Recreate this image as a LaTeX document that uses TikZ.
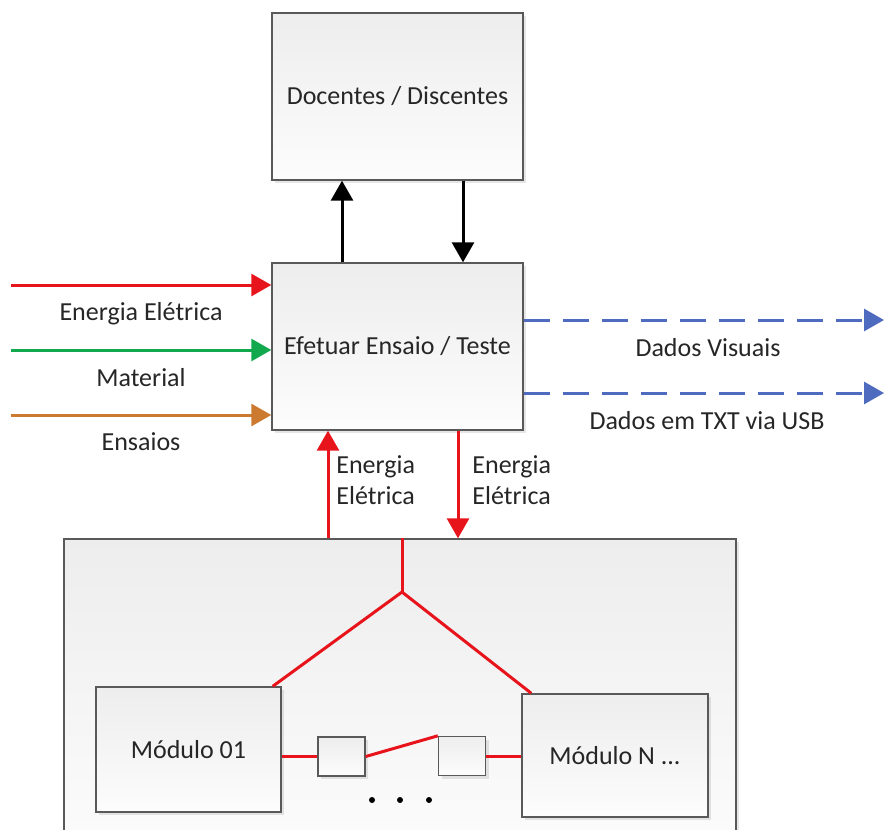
\documentclass[tikz,border=0pt]{standalone}
\usepackage{fontspec}
\setmainfont{Carlito}
\usetikzlibrary{arrows.meta,shadows}
\definecolor{redLine}{HTML}{E8141B}
\definecolor{greenLine}{HTML}{12A84E}
\definecolor{orangeLine}{HTML}{CC7A30}
\definecolor{blueLine}{HTML}{4F6BC0}
\tikzset{
    bigBox/.style={rectangle, draw=black!65, line width=0.7pt, top color=black!7, bottom color=black!1, inner sep=0pt, drop shadow={shadow xshift=1.5pt, shadow yshift=-1.5pt, opacity=0.2}},
    mainBox/.style={bigBox, minimum width=125.5pt, minimum height=83.5pt, text=black!85, font=\fontsize{13}{15.6}\selectfont},
    modBox/.style={bigBox, minimum width=93pt, minimum height=62pt, text=black!85, font=\fontsize{13}{15.6}\selectfont},
    smallBox/.style={bigBox, minimum width=23.5pt, minimum height=19.5pt},
    label/.style={text=black!85, font=\fontsize{13}{15.6}\selectfont, inner sep=0pt},
    flowArrow/.style={-{Triangle[length=10pt,width=11pt]}, line width=1.5pt},
    powerLine/.style={redLine, line width=1.5pt},
    dataOut/.style={-{Triangle[length=10pt,width=11pt]}, blueLine, line width=1.5pt, dash pattern=on 13pt off 6.5pt}
}

\begin{document}
\begin{tikzpicture}[x=0.5pt, y=-0.5pt]
\useasboundingbox (0,0) rectangle (886,829);
\clip (0,0) rectangle (886,829);

% system box with the modules
\node[bigBox, minimum width=336pt, minimum height=161pt] (sys) at (400,700) {};

% main blocks
\node[mainBox] (doc) at (397.5,96.5) {Docentes / Discentes};
\node[mainBox] (ens) at (397.5,346.5) {Efetuar Ensaio / Teste};

% modules
\node[modBox, minimum width=92.5pt, minimum height=62.5pt] (mod1) at (188.5,749.5) {Módulo 01};
\node[modBox, minimum height=61.5pt] (modN) at (615,755.5) {Módulo N ...};
\node[smallBox] (conn1) at (341.5,756.5) {};
\node[smallBox] (conn2) at (462,756) {};
\foreach \x [count=\i] in {372,400,429} {
  \node[circle, fill=black, inner sep=0pt, minimum size=3pt] (dot\i) at (\x,800) {};
}

% free ends and positions of the connectors
\coordinate (inEnergy) at (11,285);
\coordinate (inMat) at (11,350);
\coordinate (inTest) at (11,415);
\coordinate (outVis) at (884,320);
\coordinate (outTxt) at (884,393);
\coordinate (upX) at (342,0);
\coordinate (downX) at (463,0);
\coordinate (pwrUp) at (328,0);
\coordinate (pwrDown) at (458,0);
\coordinate (jn) at (402,592);

% inputs
\draw[flowArrow, redLine] (inEnergy) -- (inEnergy -| ens.west);
\draw[flowArrow, greenLine] (inMat) -- (inMat -| ens.west);
\draw[flowArrow, orangeLine] (inTest) -- (inTest -| ens.west);
\node[label] (lEnergy) at (141,314) {Energia Elétrica};
\node[label] (lMat) at (141,378) {Material};
\node[label] (lTest) at (141,442) {Ensaios};

% outputs
\draw[dataOut] (ens.east |- outVis) -- (outVis);
\draw[dataOut] (ens.east |- outTxt) -- (outTxt);
\node[label] (lVis) at (708,348) {Dados Visuais};
\node[label] (lTxt) at (707,421) {Dados em TXT via USB};

% docentes <-> ensaio
\draw[flowArrow, black] (ens.north -| upX) -- (doc.south -| upX);
\draw[flowArrow, black] (doc.south -| downX) -- (ens.north -| downX);

% energy between ensaio and modules
\draw[flowArrow, redLine] (sys.north -| pwrUp) -- (ens.south -| pwrUp);
\draw[flowArrow, redLine] (ens.south -| pwrDown) -- (sys.north -| pwrDown);
\node[label, anchor=west, align=left] (lPwrUp) at (336,480) {Energia\\Elétrica};
\node[label, anchor=west, align=left] (lPwrDown) at (472,480) {Energia\\Elétrica};

% distribution to the modules
\draw[powerLine] (jn |- sys.north) -- (jn);
\draw[powerLine] (jn) -- ([xshift=-4.5pt]mod1.north east);
\draw[powerLine] (jn) -- ([xshift=5pt]modN.north west);
\draw[powerLine] (conn1.west -| mod1.east) -- (conn1.west);
\draw[powerLine] (conn1.east) -- (conn2.north west);
\draw[powerLine] (conn2.east) -- (conn2.east -| modN.west);

\end{tikzpicture}
\end{document}
